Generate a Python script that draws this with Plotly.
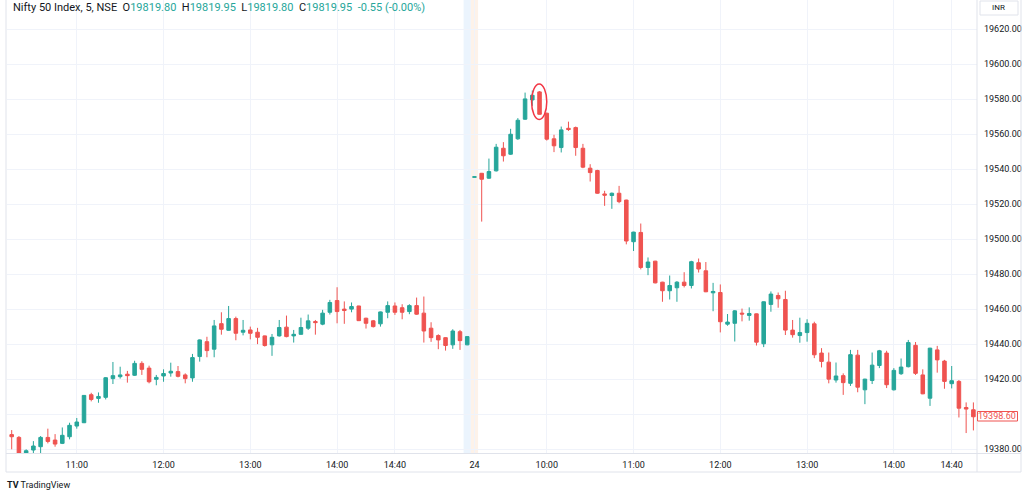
import plotly.graph_objects as go

# ---------------- data ----------------
# Day 1 (23rd): candle index -1 .. 63
day1_open = [19382.1, 19388.4, 19386.8, 19377.7, 19379.6, 19381.5, 19386.8, 19385.3, 19383.4, 19387.2,
             19393.3, 19395.2, 19411.2, 19409.1, 19409.7, 19420.4, 19421.5, 19422.9, 19422.3, 19429.1,
             19426.4, 19420.0, 19421.9, 19423.6, 19424.4, 19422.5, 19420.8, 19433.0, 19441.5, 19437.2,
             19451.8, 19448.0, 19454.7, 19446.9, 19448.2, 19446.9, 19444.8, 19439.7, 19444.8, 19449.8,
             19444.8, 19445.7, 19449.2, 19453.0, 19451.5, 19458.3, 19465.0, 19460.1, 19460.1, 19461.9,
             19454.9, 19453.4, 19451.7, 19458.3, 19461.9, 19460.9, 19458.7, 19462.1, 19457.8, 19449.2,
             19445.0, 19443.8, 19439.7, 19447.2, 19439.7]
day1_high = [19389.0, 19391.0, 19387.6, 19380.0, 19384.7, 19387.6, 19391.8, 19388.7, 19392.5, 19395.2,
             19397.9, 19411.0, 19412.3, 19412.5, 19421.3, 19429.9, 19427.2, 19424.8, 19430.6, 19430.3,
             19427.8, 19422.5, 19425.7, 19429.5, 19427.6, 19423.4, 19434.5, 19442.8, 19444.3, 19453.9,
             19458.3, 19461.9, 19455.8, 19453.9, 19450.1, 19449.4, 19445.0, 19445.9, 19453.9, 19456.4,
             19448.2, 19455.2, 19457.0, 19453.9, 19459.7, 19465.4, 19472.6, 19464.5, 19463.9, 19462.0,
             19455.2, 19453.9, 19458.7, 19464.5, 19463.9, 19462.9, 19462.9, 19466.7, 19467.3, 19452.6,
             19445.7, 19444.0, 19448.6, 19448.2, 19444.6]
day1_low = [19381.0, 19380.0, 19377.0, 19377.0, 19377.7, 19377.7, 19383.4, 19381.5, 19383.0, 19385.7,
            19391.8, 19395.0, 19407.4, 19406.6, 19408.5, 19417.3, 19420.4, 19418.1, 19421.9, 19422.5,
            19417.7, 19416.6, 19418.6, 19421.5, 19421.1, 19417.7, 19418.6, 19430.1, 19432.6, 19432.6,
            19445.5, 19447.8, 19442.3, 19445.1, 19442.8, 19440.1, 19438.7, 19433.4, 19444.4, 19444.0,
            19441.0, 19445.5, 19448.2, 19445.5, 19450.9, 19457.0, 19452.0, 19451.7, 19458.3, 19453.3,
            19449.0, 19449.6, 19450.1, 19454.9, 19456.8, 19454.3, 19457.2, 19456.8, 19441.0, 19441.4,
            19437.2, 19436.4, 19437.4, 19436.8, 19439.5]
day1_close = [19388.2, 19387.2, 19377.5, 19379.2, 19381.9, 19386.8, 19384.5, 19383.0, 19388.0, 19393.7,
              19395.6, 19410.8, 19408.5, 19410.2, 19420.9, 19422.1, 19422.5, 19422.1, 19429.1, 19425.7,
              19418.6, 19421.1, 19423.3, 19424.6, 19421.7, 19420.4, 19432.4, 19442.5, 19436.4, 19450.5,
              19448.6, 19454.7, 19446.3, 19448.0, 19446.3, 19444.0, 19439.3, 19444.0, 19449.6, 19444.4,
              19445.7, 19449.6, 19453.4, 19452.4, 19457.8, 19463.9, 19458.7, 19459.3, 19461.6, 19453.5,
              19452.0, 19450.1, 19458.5, 19462.1, 19458.3, 19458.3, 19462.1, 19457.2, 19447.6, 19443.8,
              19442.5, 19439.3, 19447.6, 19442.1, 19444.4]

# Day 2 (24th): candle index 64 .. 133
day2_open = [19535.4, 19537.7, 19534.9, 19539.1, 19552.0, 19548.6, 19557.4, 19568.6, 19579.6, 19584.2,
             19572.0, 19557.4, 19552.4, 19563.4, 19563.8, 19552.0, 19540.6, 19539.3, 19525.9, 19525.0,
             19526.3, 19522.4, 19498.6, 19503.9, 19483.9, 19487.5, 19475.5, 19470.6, 19472.3, 19475.5,
             19473.6, 19486.6, 19482.0, 19469.4, 19469.6, 19451.5, 19452.0, 19457.8, 19456.5, 19457.4,
             19440.3, 19462.8, 19467.9, 19465.6, 19448.1, 19445.0, 19446.7, 19451.7, 19435.0, 19429.8,
             19419.6, 19422.1, 19417.7, 19433.8, 19414.0, 19419.3, 19427.9, 19435.0, 19414.0, 19423.2,
             19427.2, 19439.4, 19422.5, 19409.2, 19436.8, 19430.4, 19417.5, 19418.8, 19403.9, 19402.6]
day2_high = [19535.8, 19537.9, 19546.1, 19554.5, 19555.5, 19563.1, 19569.2, 19583.8, 19585.0, 19584.7,
             19572.4, 19559.7, 19564.4, 19567.2, 19564.4, 19554.5, 19542.9, 19539.7, 19527.7, 19526.7,
             19530.5, 19522.6, 19504.3, 19509.0, 19489.6, 19487.7, 19475.7, 19479.3, 19476.1, 19481.2,
             19487.7, 19489.0, 19487.0, 19475.1, 19474.2, 19457.3, 19459.5, 19460.4, 19461.1, 19457.6,
             19464.5, 19470.2, 19469.6, 19470.6, 19453.9, 19455.2, 19454.3, 19452.9, 19437.8, 19435.3,
             19429.6, 19423.4, 19436.8, 19436.8, 19420.3, 19435.3, 19436.8, 19436.3, 19426.4, 19431.9,
             19442.5, 19441.3, 19425.7, 19438.0, 19439.1, 19431.1, 19427.6, 19419.6, 19406.8, 19406.8]
day2_low = [19535.2, 19510.1, 19534.5, 19538.7, 19544.4, 19548.2, 19556.8, 19568.2, 19576.2, 19571.2,
            19556.4, 19549.8, 19549.6, 19561.9, 19547.7, 19540.6, 19533.0, 19526.0, 19519.1, 19517.4,
            19520.6, 19497.1, 19493.3, 19482.8, 19479.5, 19474.8, 19464.3, 19465.6, 19464.3, 19472.5,
            19471.9, 19481.0, 19469.8, 19458.9, 19446.8, 19450.6, 19441.6, 19453.1, 19453.5, 19439.3,
            19438.4, 19458.6, 19460.9, 19445.3, 19443.8, 19440.9, 19441.5, 19432.1, 19426.8, 19417.7,
            19418.1, 19411.1, 19416.2, 19412.6, 19405.8, 19417.3, 19426.4, 19415.0, 19413.6, 19422.5,
            19426.8, 19422.5, 19411.5, 19404.8, 19423.8, 19414.6, 19414.8, 19398.2, 19389.3, 19390.8]
day2_close = [19535.7, 19534.3, 19538.7, 19552.6, 19547.7, 19560.0, 19568.0, 19580.2, 19582.3, 19571.4,
              19557.2, 19553.4, 19562.5, 19562.7, 19552.4, 19541.2, 19538.1, 19526.3, 19525.2, 19526.3,
              19521.5, 19499.0, 19504.1, 19483.9, 19487.0, 19475.1, 19470.6, 19473.6, 19475.5, 19473.6,
              19487.2, 19483.0, 19470.0, 19470.2, 19452.9, 19452.7, 19459.1, 19457.3, 19457.6, 19441.2,
              19464.3, 19468.7, 19466.0, 19448.1, 19445.5, 19446.7, 19452.0, 19434.0, 19430.2, 19420.1,
              19421.9, 19418.1, 19434.1, 19415.5, 19420.1, 19428.1, 19436.3, 19416.9, 19425.1, 19427.0,
              19441.0, 19423.4, 19411.7, 19437.8, 19431.1, 19418.8, 19419.2, 19403.5, 19403.0, 19398.6]

tick_index = [9, 21, 33, 45, 53, 64, 74, 86, 98, 110, 122, 130]
tick_labels = ["11:00", "12:00", "13:00", "14:00", "14:40", "24",
               "10:00", "11:00", "12:00", "13:00", "14:00", "14:40"]
price_ticks = [19380, 19400, 19420, 19440, 19460, 19480, 19500, 19520,
               19540, 19560, 19580, 19600, 19620]
last_price = 19398.60
header_name = "Nifty 50 Index, 5, NSE"
header_ohlc = [("O", "19819.80"), ("H", "19819.95"), ("L", "19819.80"), ("C", "19819.95")]
header_change = "-0.55 (-0.00%)"

# ---------------- build ----------------
opens = day1_open + day2_open
highs = day1_high + day2_high
lows = day1_low + day2_low
closes = day1_close + day2_close
x_index = list(range(-1, -1 + len(opens)))

UP = "#26a69a"
DN = "#ef5350"
GRID = "#f0f3fa"
BORDER = "#e0e3eb"
TXT = "#131722"
FONT = "Roboto"

# pixel geometry helpers (plot area: x 7..977, y 0..453)
L, R, T, B = 7, 47, 0, 43
W, H = 1024, 496
PW, PH = W - L - R, H - T - B
def px(xp):
    return (xp - L) / PW
def py(yp):
    return (T + PH - yp) / PH

fig = go.Figure(go.Candlestick(
    x=x_index, open=opens, high=highs, low=lows, close=closes,
    increasing=dict(line=dict(color=UP, width=1), fillcolor=UP),
    decreasing=dict(line=dict(color=DN, width=1), fillcolor=DN),
    whiskerwidth=0, hoverinfo="skip", showlegend=False,
))

ytext = [("" if v == 19400 else f"{v:.2f}") for v in price_ticks]

fig.update_layout(
    template="none",
    width=W, height=H,
    margin=dict(l=L, r=R, t=T, b=B, pad=0),
    paper_bgcolor="white", plot_bgcolor="white",
    font=dict(family=FONT, size=9, color=TXT),
    showlegend=False,
    xaxis=dict(
        range=[-0.65, 133.5], tickvals=tick_index, ticktext=tick_labels,
        showgrid=True, gridcolor=GRID, gridwidth=1, zeroline=False,
        showline=False, ticks="", tickfont=dict(size=9, color=TXT, family=FONT),
        rangeslider=dict(visible=False), automargin=False, ticklabelstandoff=5,
    ),
    yaxis=dict(
        side="right", range=[19377.9, 19636.7], tickvals=price_ticks, ticktext=ytext,
        showgrid=True, gridcolor=GRID, gridwidth=1, zeroline=False,
        showline=False, ticks="", tickfont=dict(size=9, color=TXT, family=FONT),
        automargin=False, ticklabelstandoff=6,
    ),
)

shapes = []
# session highlight bands
shapes.append(dict(type="rect", xref="x", yref="paper", x0=62.5, x1=63.5, y0=0, y1=1,
                   fillcolor="#ebf4fd", line=dict(width=0), layer="below"))
shapes.append(dict(type="rect", xref="x", yref="paper", x0=63.5, x1=64.5, y0=0, y1=1,
                   fillcolor="#fdf2e9", line=dict(width=0), layer="below"))
# frame lines
line_style = dict(color=BORDER, width=1)
shapes.append(dict(type="line", xref="paper", yref="paper", x0=px(6), x1=px(6), y0=py(0), y1=py(472), line=line_style))
shapes.append(dict(type="line", xref="paper", yref="paper", x0=px(977), x1=px(977), y0=py(0), y1=py(472), line=line_style))
shapes.append(dict(type="line", xref="paper", yref="paper", x0=px(1021), x1=px(1021), y0=py(0), y1=py(472), line=line_style))
shapes.append(dict(type="line", xref="paper", yref="paper", x0=px(6), x1=px(1021), y0=py(453.5), y1=py(453.5), line=line_style))
shapes.append(dict(type="line", xref="paper", yref="paper", x0=px(6), x1=px(1021), y0=py(472), y1=py(472), line=line_style))
# INR box
shapes.append(dict(type="rect", xref="paper", yref="paper", x0=px(980), x1=px(1018), y0=py(1), y1=py(15),
                   line=dict(color=BORDER, width=1), fillcolor="white"))
# last price label box
shapes.append(dict(type="rect", xref="paper", yref="paper", x0=px(977.5), x1=px(1017.5),
                   y0=py(411.5), y1=py(421), line=dict(color=DN, width=1), fillcolor="white"))
# highlight ellipse
shapes.append(dict(type="circle", xref="x", yref="y", x0=71.9, x1=74.0, y0=19568.5, y1=19588.7,
                   line=dict(color="#f23645", width=1.5)))
fig.update_layout(shapes=shapes)

hdr = header_name + "&nbsp;&nbsp;" + "&nbsp;&nbsp;".join(
    f"{k}<span style='color:{UP}'>{v}</span>" for k, v in header_ohlc
) + f"&nbsp;&nbsp;<span style='color:{UP}'>{header_change}</span>"

annotations = [
    dict(text=hdr, xref="paper", yref="paper", x=px(11), y=py(8), xanchor="left", yanchor="middle",
         showarrow=False, font=dict(size=11, color=TXT, family=FONT)),
    dict(text="INR", xref="paper", yref="paper", x=px(999), y=py(8), xanchor="center", yanchor="middle",
         showarrow=False, font=dict(size=8, color=TXT, family=FONT)),
    dict(text=f"{last_price:.2f}", xref="paper", yref="paper", x=px(997.5), y=py(416.3),
         xanchor="center", yanchor="middle", showarrow=False, font=dict(size=9, color=DN, family=FONT)),
    dict(text="<b>TV</b> TradingView", xref="paper", yref="paper", x=px(5), y=py(485),
         xanchor="left", yanchor="middle", showarrow=False, font=dict(size=9, color=TXT, family=FONT)),
]
fig.update_layout(annotations=annotations)

fig.write_html("out.html")
